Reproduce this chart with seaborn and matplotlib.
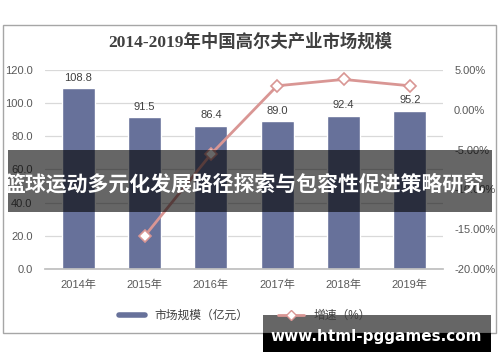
import numpy as np
import pandas as pd
import matplotlib
matplotlib.use('Agg')
import matplotlib.pyplot as plt
import seaborn as sns
from matplotlib.patches import Rectangle
from matplotlib.lines import Line2D
from matplotlib.ticker import FuncFormatter

# 数据
years = ['2014年', '2015年', '2016年', '2017年', '2018年', '2019年']
market_size = [108.8, 91.5, 86.4, 89.0, 92.4, 95.2]   # 亿元
growth = [np.nan, -15.9, -5.6, 3.0, 3.8, 3.0]          # %

title = '2014-2019年中国高尔夫产业市场规模'
banner = '篮球运动多元化发展路径探索与包容性促进策略研究'
watermark = 'www.html-pggames.com'

sns.set_theme(style='white')
plt.rcParams['font.family'] = ['Liberation Sans', 'Noto Sans CJK SC', 'DejaVu Sans']
plt.rcParams['axes.unicode_minus'] = False

bar_color = '#67719a'
line_color = '#d99694'
tick_color = '#595959'

df = pd.DataFrame({'pos': range(len(years)), 'size': market_size, 'growth': growth})

fig = plt.figure(figsize=(5, 3.62), dpi=100)
ax = fig.add_axes([0.09, 0.257, 0.796, 0.55])

# 柱状图：市场规模
sns.barplot(data=df, x='pos', y='size', color=bar_color, saturation=1, width=0.5, ax=ax)
ax.bar_label(ax.containers[0], fmt='%.1f', padding=4, fontsize=8, color='#404040')
ax.set_xlim(-0.5, len(years) - 0.5)
ax.set_ylim(0, 120)
ax.set_yticks(np.arange(0, 121, 20))
ax.yaxis.set_major_formatter(FuncFormatter(lambda v, p: f'{v:.1f}'))
ax.set_xticks(range(len(years)), years)
ax.set_xticks(np.arange(-0.5, len(years), 1), minor=True)
ax.tick_params(axis='x', which='major', length=0, pad=8, labelsize=8, labelcolor=tick_color)
ax.tick_params(axis='x', which='minor', length=3, color='#bfbfbf', direction='out')
ax.tick_params(axis='y', length=0, pad=9, labelsize=8, labelcolor=tick_color)
ax.set_xlabel('')
ax.set_ylabel('')
ax.yaxis.grid(True, color='#d9d9d9', lw=0.9)
ax.set_axisbelow(True)
for s in ['top', 'left', 'right']:
    ax.spines[s].set_visible(False)
ax.spines['bottom'].set_color('#bfbfbf')

# 折线图：增速
ax2 = ax.twinx()
sns.lineplot(data=df, x='pos', y='growth', ax=ax2, color=line_color, lw=2,
             marker='D', markersize=6, markerfacecolor='white',
             markeredgecolor=line_color, markeredgewidth=1.2)
ax2.set_ylim(-20, 5)
ax2.set_yticks(np.arange(-20, 6, 5))
ax2.yaxis.set_major_formatter(FuncFormatter(lambda v, p: f'{v:.2f}%'))
ax2.tick_params(axis='y', length=0, pad=8, labelsize=8, labelcolor=tick_color)
ax2.set_ylabel('')
ax2.grid(False)
for s in ax2.spines.values():
    s.set_visible(False)

# 图例
handles = [Line2D([], [], color=bar_color, lw=4),
           Line2D([], [], color=line_color, lw=2, marker='D', markersize=5,
                  markerfacecolor='white', markeredgecolor=line_color)]
fig.legend(handles, ['市场规模（亿元）', '增速（%）'], loc='center',
           bbox_to_anchor=(0.49, 0.127), ncol=2, frameon=False, fontsize=8.5,
           handlelength=2.2, columnspacing=2.5, labelcolor='#404040')

# 标题
fig.text(0.5, 0.884, title, ha='center', va='center', fontsize=12.5, fontweight='bold',
         color='#404040', family=['Liberation Serif', 'Noto Sans CJK SC'])

# 外框
fig.add_artist(Rectangle((3 / 500, 1 - 333 / 362), 493 / 500, 308 / 362, transform=fig.transFigure,
                         fill=False, edgecolor='#a6a6a6', lw=1, zorder=1))

# 横幅
fig.add_artist(Rectangle((8 / 500, 1 - 212 / 362), 484 / 500, 62 / 362, transform=fig.transFigure,
                         facecolor='black', alpha=0.6, lw=0, zorder=4))
fig.text(0.49, 1 - 184 / 362, banner, ha='center', va='center', fontsize=15, fontweight='bold',
         color='white', family=['Noto Sans CJK SC'], zorder=5)

# 水印
fig.add_artist(Rectangle((263 / 500, 1 - 333 / 362), 228 / 500, 18 / 362, transform=fig.transFigure,
                         facecolor='black', alpha=0.6, lw=0, zorder=4))
fig.add_artist(Rectangle((263 / 500, 1 - 352 / 362), 228 / 500, 19 / 362, transform=fig.transFigure,
                         facecolor='black', lw=0, zorder=4))
fig.text(0.753, 1 - 336 / 362, watermark, ha='center', va='center', fontsize=11, fontweight='bold',
         color='white', family=['DejaVu Sans'], zorder=5)

fig.savefig('out.png', dpi=100)
